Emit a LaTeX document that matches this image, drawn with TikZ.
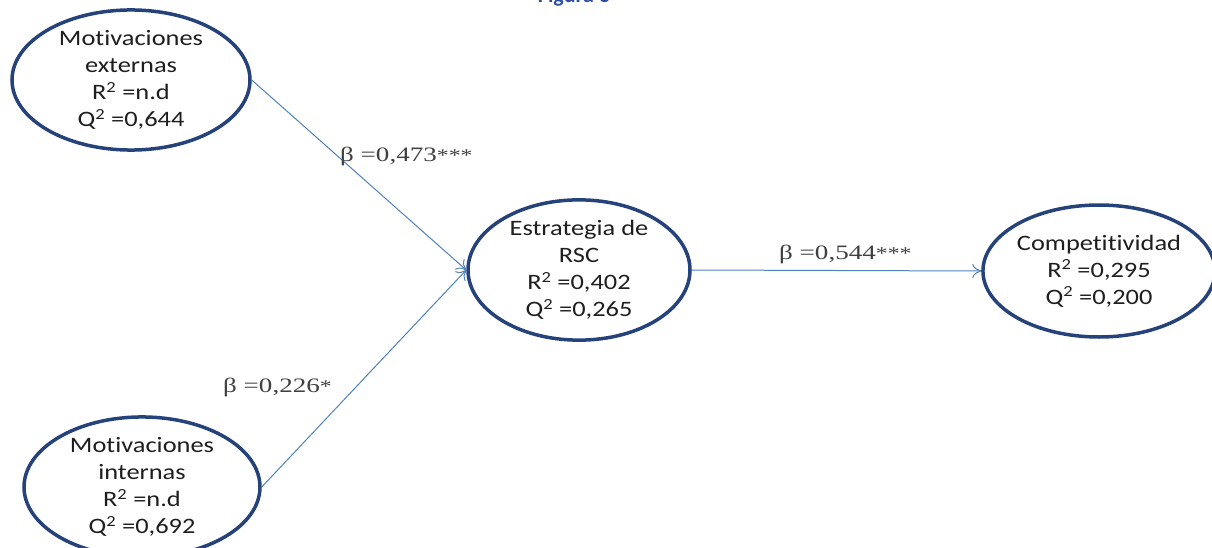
\documentclass[tikz,border=0pt]{standalone}
\usepackage{fontspec}
\usetikzlibrary{shapes.geometric,arrows.meta}
\setmainfont{Liberation Serif}
\newfontfamily\lab[FakeStretch=1.2,Ligatures=NoCommon]{Carlito}
\newfontfamily\bfnt[FakeStretch=1.32]{Liberation Serif}
\newfontfamily\ttl{Carlito}
\definecolor{navy}{RGB}{38,66,122}
\definecolor{arrblue}{RGB}{79,129,189}
\definecolor{ttlblue}{RGB}{46,78,160}
\definecolor{txt}{RGB}{30,30,30}
\tikzset{
  lv/.style={draw=navy, line width=3.5pt, ellipse, inner sep=0pt, align=center,
    text=txt, font=\lab\fontsize{22}{27}\selectfont},
  arr/.style={draw=arrblue, line width=1pt, -{To[length=9pt,width=14pt]}},
  beta/.style={text=txt!85, font=\bfnt\fontsize{20.5}{24}\selectfont, inner sep=0pt}
}
\newcommand{\myast}{{\fontsize{18}{18}\selectfont *}}
\begin{document}
\begin{tikzpicture}[x=1pt,y=-1pt]
\useasboundingbox (0,0) rectangle (1212,548);
\clip (0,0) rectangle (1212,548);
\node[anchor=base, text=ttlblue, font=\ttl\bfseries\fontsize{22}{24}\selectfont] (title) at (574,2.5) {Figura 3};
\node[lv, minimum width=238pt, minimum height=132pt] (me) at (131,80)
  {Motivaciones\\externas\\R\textsuperscript{2} =n.d\\Q\textsuperscript{2} =0,644};
\node[lv, minimum width=236pt, minimum height=132pt] (mi) at (142,487)
  {Motivaciones\\internas\\R\textsuperscript{2} =n.d\\Q\textsuperscript{2} =0,692};
\node[lv, minimum width=222pt, minimum height=138pt] (rsc) at (579,270)
  {Estrategia de\\RSC\\R\textsuperscript{2} =0,402\\Q\textsuperscript{2} =0,265};
\node[lv, minimum width=224pt, minimum height=132pt] (comp) at (1099,271)
  {Competitividad\\R\textsuperscript{2} =0,295\\Q\textsuperscript{2} =0,200};
\draw[arr] (me.east) -- (rsc.west);
\draw[arr] (mi.east) -- (rsc.west);
\draw[arr] (rsc.east) -- (comp.west);
\node[beta, anchor=base west] (b1) at (340,162) {β =0,473\myast\myast\myast};
\node[beta, anchor=base west] (b2) at (223,392) {β =0,226\myast};
\node[beta, anchor=base west] (b3) at (779,259) {β =0,544\myast\myast\myast};
\end{tikzpicture}
\end{document}
